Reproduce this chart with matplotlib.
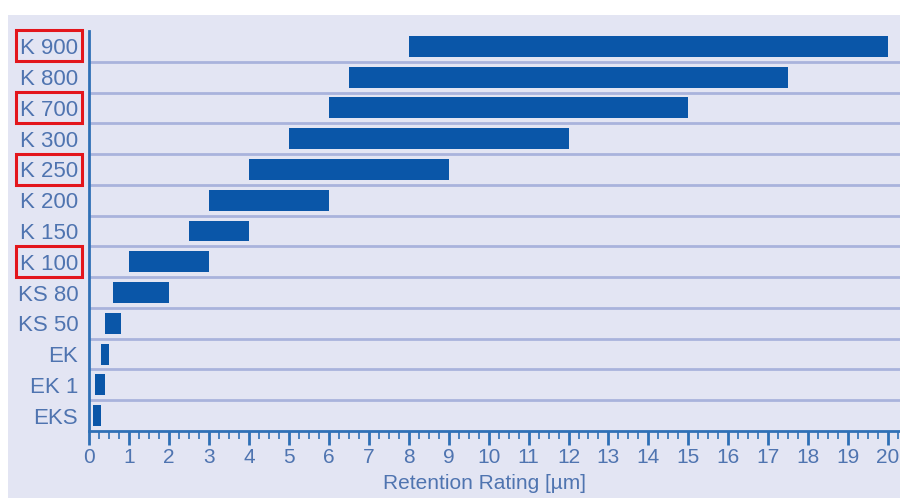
import matplotlib
matplotlib.use("Agg")
from matplotlib import pyplot as plt
from matplotlib.patches import Rectangle
from matplotlib.ticker import MultipleLocator

# filter grades, top to bottom
grades = ['K 900', 'K 800', 'K 700', 'K 300', 'K 250', 'K 200', 'K 150',
          'K 100', 'KS 80', 'KS 50', 'EK', 'EK 1', 'EKS']
# retention range in micrometres
low = [8, 6.5, 6, 5, 4, 3, 2.5, 1, 0.6, 0.4, 0.3, 0.15, 0.1]
high = [20, 17.5, 15, 12, 9, 6, 4, 3, 2, 0.8, 0.5, 0.4, 0.3]
highlighted = ['K 900', 'K 700', 'K 250', 'K 100']

bg = '#e3e5f3'
bar_col = '#0a56a8'
text_col = '#4f74b0'
axis_col = '#2f70b6'
sep_col = '#a9b3dc'

plt.rcParams['font.family'] = ['Liberation Sans', 'DejaVu Sans']

fig = plt.figure(figsize=(9, 4.98), dpi=100, facecolor='white')
fig.patches.append(Rectangle((8 / 900, 0), 1, (498 - 15) / 498, transform=fig.transFigure,
                             facecolor=bg, edgecolor='none', zorder=-10))

ax = fig.add_axes([89.3 / 900, (498 - 431) / 498, (900 - 89.3) / 900, 400 / 498])
ax.set_facecolor(bg)
ax.patch.set_alpha(0)

n = len(grades)
ys = list(range(n))
widths = [h - l for l, h in zip(low, high)]
ax.barh(ys, widths, left=low, height=0.68, color=bar_col, zorder=3)

# row separators
for i in range(n - 1):
    ax.axhline(i + 0.5, color=sep_col, lw=2, zorder=1)

ax.set_ylim(n - 0.5, -0.5)
ax.set_xlim(0, 20.3)

ax.set_yticks(ys)
ax.set_yticklabels(grades, fontsize=16, color=text_col)
ax.tick_params(axis='y', length=0, pad=8)

ax.set_xticks(range(0, 21))
ax.xaxis.set_minor_locator(MultipleLocator(0.25))
ax.tick_params(axis='x', which='major', length=10, width=2, color=axis_col,
               labelsize=15, labelcolor=text_col, pad=2)
ax.tick_params(axis='x', which='minor', length=6, width=1.2, color=axis_col)
ax.set_xlabel('Retention Rating [µm]', fontsize=15, color=text_col)
ax.xaxis.set_label_coords(0.488, -0.108)

for s in ['top', 'right']:
    ax.spines[s].set_visible(False)
for s in ['left', 'bottom']:
    ax.spines[s].set_color(axis_col)
    ax.spines[s].set_linewidth(2)

# red boxes around highlighted labels
for g in highlighted:
    i = grades.index(g)
    y0 = 498 - (46 + i * 30.75 + 15.5)
    fig.patches.append(Rectangle((16 / 900, y0 / 498), 66 / 900, 31 / 498,
                                 transform=fig.transFigure, facecolor='none',
                                 edgecolor='#e3161c', lw=2.2, zorder=5))

plt.savefig('out.png', dpi=100, facecolor='white')
